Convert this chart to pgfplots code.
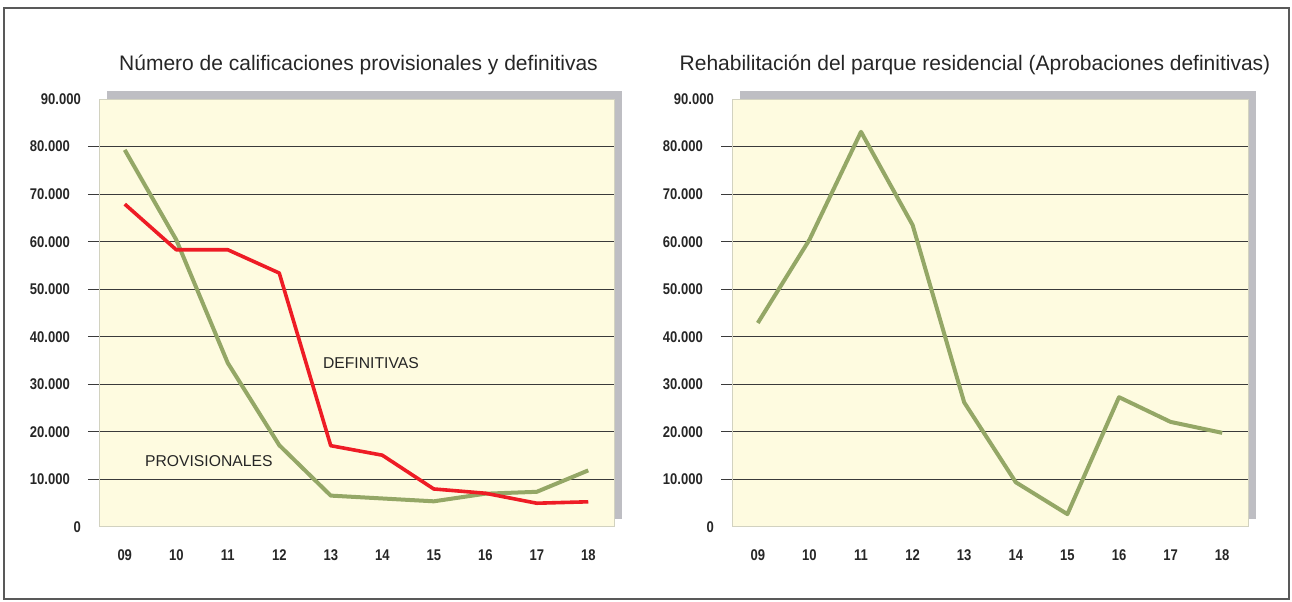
\documentclass[border=0pt]{standalone}
\usepackage{pgfplots}
\pgfplotsset{compat=1.18}
\usepackage{fontspec}
\setmainfont{Liberation Sans}
\newfontfamily\tickfont[FakeStretch=0.84]{Liberation Sans}
\definecolor{cream}{HTML}{FEFBE0}
\definecolor{creamborder}{HTML}{D2D2C0}
\definecolor{shadowgray}{HTML}{BEBEC3}
\definecolor{olive}{HTML}{94A766}
\definecolor{redline}{HTML}{EE1C25}
\definecolor{gridc}{HTML}{3A3A3A}

\pgfplotsset{
  panel/.style={
    anchor=south west,
    scale only axis, width=515bp, height=428bp,
    xmin=-0.5, xmax=9.5, ymin=0, ymax=90000,
    xtick={0,...,9},
    xticklabels={09,10,11,12,13,14,15,16,17,18},
    x tick style={draw=none},
    ytick pos=left,
    ytick={10000,20000,30000,40000,50000,60000,70000,80000},
    extra y ticks={0,90000},
    extra y tick style={grid=none, major tick length=0pt},
    ymajorgrids,
    grid style={draw=gridc, line width=1bp},
    y tick style={draw=gridc, line width=1bp},
    tick align=outside,
    major tick length=11bp,
    axis line style={draw=creamborder, line width=1bp},
    axis background/.style={fill=cream},
    scaled y ticks=false,
    /pgf/number format/fixed,
    /pgf/number format/1000 sep={.},
    /pgf/number format/assume math mode=true,
    tick label style={font=\tickfont\bfseries\fontsize{15.5bp}{17bp}\selectfont, text=black!85},
    yticklabel style={inner sep=0pt, xshift=-18bp},
    xticklabel style={inner sep=0pt, yshift=-11.5bp},
    clip=false,
  },
}

\begin{document}
\begin{tikzpicture}
\useasboundingbox (0,0) rectangle (1292bp,602bp);
% outer frame
\draw[draw=black!65, line width=1.3bp] (4bp,3bp) rectangle (1289bp,594bp);
% shadows
\fill[shadowgray] (107bp,83bp) rectangle (622bp,511bp);
\fill[shadowgray] (740bp,83bp) rectangle (1256bp,511bp);
% titles
\node[anchor=base, font=\fontsize{21bp}{24bp}\selectfont, text=black!85] at (358.5bp,531bp) {Número de calificaciones provisionales y definitivas};
\node[anchor=base, font=\fontsize{21bp}{24bp}\selectfont, text=black!85] at (975bp,531bp) {Rehabilitación del parque residencial (Aprobaciones definitivas)};

\begin{axis}[panel, at={(99bp,75bp)}]
\addplot[color=olive, line width=4bp, line join=round] coordinates {
(0,79300) (1,60400) (2,34500) (3,17200) (4,6600) (5,6000) (6,5400) (7,7000) (8,7400) (9,11900)};
\addplot[color=redline, line width=3.6bp, line join=round] coordinates {
(0,67900) (1,58300) (2,58300) (3,53400) (4,17100) (5,15100) (6,8000) (7,7100) (8,5000) (9,5300)};
\node[anchor=base, font=\fontsize{15.7bp}{18bp}\selectfont, text=black!85] at (axis cs:4.78,33370) {DEFINITIVAS};
\node[anchor=base, font=\fontsize{15.7bp}{18bp}\selectfont, text=black!85] at (axis cs:1.632,12826) {PROVISIONALES};
\end{axis}

\begin{axis}[panel, at={(732bp,75bp)}, width=516bp]
\addplot[color=olive, line width=4bp, line join=round] coordinates {
(0,42900) (1,60400) (2,83100) (3,63500) (4,26200) (5,9400) (6,2700) (7,27300) (8,22100) (9,19800)};
\end{axis}
\end{tikzpicture}
\end{document}
